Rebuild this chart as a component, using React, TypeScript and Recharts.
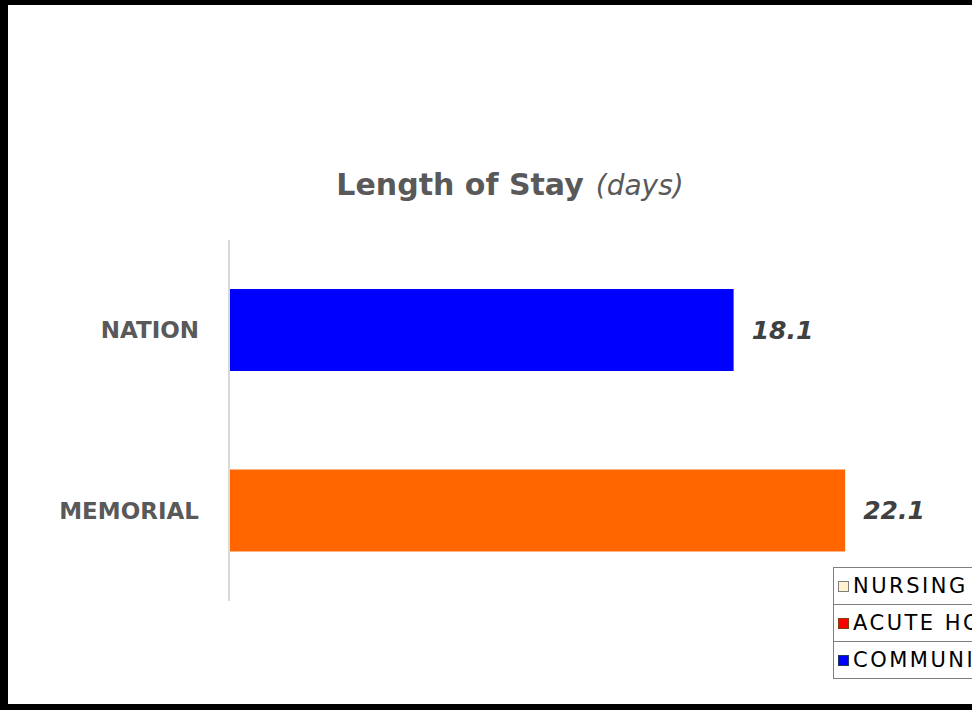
import { BarChart, Bar, XAxis, YAxis, Cell, LabelList } from 'recharts';

const categories = ['NATION', 'MEMORIAL'];
const stayDays = [18.1, 22.1];
const barColors = ['#0000ff', '#ff6600'];

const legendLabels = ['NURSING HOME', 'ACUTE HOSPITAL', 'COMMUNITY'];
const legendFills = ['#fff2cc', '#ff0000', '#0000ff'];
const legendEdges = ['#7f7f7f', '#843c0c', '#203864'];

const FONT = '"DejaVu Sans", sans-serif';

const data = categories.map((name, i) => ({ name, days: stayDays[i] }));

function Title() {
  return (
    <div
      style={{
        position: 'absolute', left: 0, top: 170, width: 1020,
        textAlign: 'center', whiteSpace: 'nowrap', lineHeight: '30px',
        fontFamily: FONT, color: '#595959',
      }}
    >
      <span style={{ fontSize: 30, fontWeight: 'bold' }}>Length of Stay</span>
      <span style={{ fontSize: 28, fontStyle: 'italic', marginLeft: 12 }}>(days)</span>
    </div>
  );
}

function TableLegend() {
  return (
    <div
      style={{
        position: 'absolute', left: 833, top: 567, width: 220,
        border: '1px solid #7f7f7f', fontFamily: FONT, fontSize: 21,
        color: '#000', background: '#fff',
      }}
    >
      {legendLabels.map((label, i) => (
        <div
          key={label}
          style={{
            height: 36, display: 'flex', alignItems: 'center', whiteSpace: 'nowrap',
            borderTop: i === 0 ? 'none' : '1px solid #7f7f7f', letterSpacing: 2.5,
          }}
        >
          <span
            style={{
              display: 'inline-block', flexShrink: 0, width: 9, height: 9,
              marginLeft: 4, marginRight: 4,
              background: legendFills[i], border: `1px solid ${legendEdges[i]}`,
            }}
          />
          <span>{label}</span>
        </div>
      ))}
    </div>
  );
}

export default function App() {
  return (
    <div
      style={{
        position: 'absolute', left: 0, top: 0, width: 972, height: 710,
        overflow: 'hidden', background: '#fff',
      }}
    >
      <Title />
      <BarChart
        width={972}
        height={710}
        data={data}
        layout="vertical"
        margin={{ top: 240, right: 46, bottom: 109, left: 0 }}
        barCategoryGap={0}
      >
        <XAxis type="number" domain={[0, 25]} hide />
        <YAxis
          type="category"
          dataKey="name"
          width={229}
          axisLine={{ stroke: '#d9d9d9', strokeWidth: 2 }}
          tickLine={false}
          tickMargin={24}
          tick={{ fill: '#595959', fontSize: 23, fontWeight: 'bold', fontFamily: FONT }}
        />
        <Bar dataKey="days" barSize={82} isAnimationActive={false}>
          {data.map((d, i) => (
            <Cell key={d.name} fill={barColors[i]} />
          ))}
          <LabelList
            dataKey="days"
            position="right"
            offset={18}
            formatter={(v: any) => Number(v).toFixed(1)}
            fill="#404040"
            fontSize={25}
            fontWeight="bold"
            fontStyle="italic"
            fontFamily={FONT}
          />
        </Bar>
      </BarChart>
      <TableLegend />
      <div
        style={{
          position: 'absolute', left: 0, top: 0, width: 972, height: 710,
          boxSizing: 'border-box', borderTop: '5px solid #000', borderLeft: '8px solid #000',
          borderBottom: '6px solid #000', pointerEvents: 'none',
        }}
      />
    </div>
  );
}
